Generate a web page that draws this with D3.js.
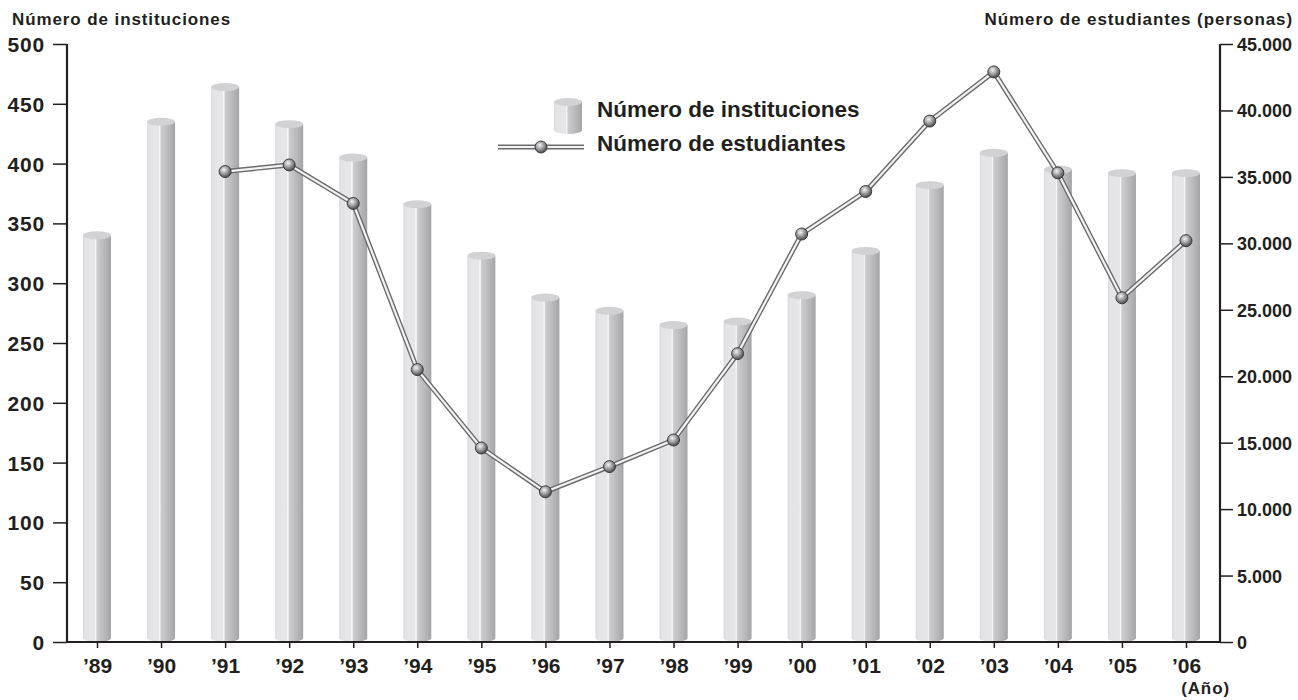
<!DOCTYPE html>
<html>
<head>
<meta charset="utf-8">
<script src="https://cdn.jsdelivr.net/npm/d3@7"></script>
<style>
  body { margin: 0; background: #fff; }
  text { font-family: "Liberation Sans", Arial, Helvetica, sans-serif; font-weight: bold; fill: #231f20; }
</style>
</head>
<body>
<div id="chart"></div>
<script>
// data
var years = ["’89", "’90", "’91", "’92", "’93", "’94", "’95", "’96", "’97", "’98", "’99", "’00", "’01", "’02", "’03", "’04", "’05", "’06"]
var institutions = [340, 435, 464, 433, 405, 366, 323, 288, 277, 265, 268, 290, 327, 382, 409, 395, 392, 392]
// students start in '91
var studentYears = ["’91", "’92", "’93", "’94", "’95", "’96", "’97", "’98", "’99", "’00", "’01", "’02", "’03", "’04", "’05", "’06"]
var students = [35400, 35900, 33000, 20500, 14600, 11300, 13200, 15200, 21700, 30700, 33900, 39200, 42900, 35300, 25900, 30200]
var leftTicks = [0, 50, 100, 150, 200, 250, 300, 350, 400, 450, 500]
var rightTicks = [0, 5000, 10000, 15000, 20000, 25000, 30000, 35000, 40000, 45000]

var W = 1298, H = 700
var plotLeft = 67, plotRight = 1220, plotTop = 44, base = 642
var rx = 14, ry = 4

var svg = d3.select("#chart").append("svg")
    .attr("width", W)
    .attr("height", H)

var defs = svg.append("defs")
var bodyGrad = defs.append("linearGradient").attr("id", "cyl")
    .attr("x1", "0%").attr("x2", "100%").attr("y1", "0%").attr("y2", "0%")
bodyGrad.selectAll("stop")
    .data([[0, "#d9d9db"], [0.08, "#e4e4e6"], [0.42, "#e6e6e8"], [0.44, "#f7f7f7"], [0.47, "#f2f2f3"], [0.49, "#cdcdcf"], [0.8, "#b6b6b9"], [1, "#a4a4a7"]])
    .enter().append("stop")
    .attr("offset", function(d) { return d[0] })
    .attr("stop-color", function(d) { return d[1] })

var ballGrad = defs.append("radialGradient").attr("id", "ball")
    .attr("cx", "40%").attr("cy", "35%").attr("r", "65%")
ballGrad.append("stop").attr("offset", 0).attr("stop-color", "#f4f4f4")
ballGrad.append("stop").attr("offset", 0.45).attr("stop-color", "#a9a9ab")
ballGrad.append("stop").attr("offset", 1).attr("stop-color", "#4a4a4c")

var x = d3.scalePoint().domain(years).range([97, 1186])
var yL = d3.scaleLinear().domain([0, 500]).range([base, plotTop])
var yR = d3.scaleLinear().domain([0, 45000]).range([base, plotTop])

// cylinders
function drawCylinder(g, cx, cy, bottom) {
    g.append("path")
        .attr("d", "M" + (cx - rx) + "," + cy + " L" + (cx - rx) + "," + (bottom - ry) +
            " A" + rx + "," + ry + " 0 0 0 " + (cx + rx) + "," + (bottom - ry) +
            " L" + (cx + rx) + "," + cy + " Z")
        .attr("fill", "url(#cyl)")
    g.append("ellipse")
        .attr("cx", cx).attr("cy", cy)
        .attr("rx", rx).attr("ry", ry)
        .attr("fill", "#d2d2d4")
}

var bars = svg.append("g")
institutions.forEach(function(v, i) {
    drawCylinder(bars, x(years[i]), yL(v), base)
})

// axes
var axisColor = "#231f20"
var leftAxis = svg.append("g").attr("transform", "translate(" + plotLeft + ",0)")
    .call(d3.axisLeft(yL).tickValues(leftTicks).tickSize(14).tickPadding(8).tickFormat(d3.format("d")))
var rightAxis = svg.append("g").attr("transform", "translate(" + plotRight + ",0)")
    .call(d3.axisRight(yR).tickValues(rightTicks).tickSize(13).tickPadding(4)
        .tickFormat(function(d) { return d == 0 ? "0" : d3.format(",")(d).replace(",", ".") }))
var bottomAxis = svg.append("g").attr("transform", "translate(0," + base + ")")
    .call(d3.axisBottom(x).tickSize(6).tickPadding(6))

;[leftAxis, rightAxis, bottomAxis].forEach(function(a) {
    a.select(".domain").remove()
    a.selectAll(".tick line").attr("stroke", axisColor).attr("stroke-width", 1.5)
    a.selectAll(".tick text").style("font-size", "21px").attr("fill", axisColor)
})
leftAxis.selectAll(".tick text").attr("dy", "0.36em").style("letter-spacing", "0.8px")
rightAxis.selectAll(".tick text").attr("dy", "0.36em").style("font-size", "18px")
bottomAxis.selectAll(".tick text").attr("dy", "0.9em")

svg.append("path")
    .attr("d", "M" + plotLeft + "," + plotTop + " L" + plotLeft + "," + base + " L" + plotRight + "," + base + " L" + plotRight + "," + plotTop)
    .attr("fill", "none")
    .attr("stroke", axisColor)
    .attr("stroke-width", 2.2)

// student line: dark outline with light core
var line = d3.line()
    .x(function(d, i) { return x(studentYears[i]) })
    .y(function(d) { return yR(d) })
svg.append("path").datum(students)
    .attr("d", line).attr("fill", "none")
    .attr("stroke", "#6b6b6d").attr("stroke-width", 5)
svg.append("path").datum(students)
    .attr("d", line).attr("fill", "none")
    .attr("stroke", "#f2f2f2").attr("stroke-width", 2.2)
svg.append("g").selectAll("circle")
    .data(students)
    .enter().append("circle")
    .attr("cx", function(d, i) { return x(studentYears[i]) })
    .attr("cy", function(d) { return yR(d) })
    .attr("r", 6)
    .attr("fill", "url(#ball)")
    .attr("stroke", "#3c3c3e")
    .attr("stroke-width", 1)

// titles
svg.append("text").attr("x", 12).attr("y", 25).style("font-size", "17px").style("letter-spacing", "0.9px").text("Número de instituciones")
svg.append("text").attr("x", 1293).attr("y", 25).attr("text-anchor", "end").style("font-size", "17px").style("letter-spacing", "0.9px").text("Número de estudiantes (personas)")
svg.append("text").attr("x", 1230).attr("y", 694).attr("text-anchor", "end").style("font-size", "17px").style("letter-spacing", "0.9px").text("(Año)")

// legend
var lg = svg.append("g")
drawCylinder(lg, 568, 102, 134)
lg.append("text").attr("x", 597).attr("y", 117).style("font-size", "22.5px").text("Número de instituciones")
lg.append("line").attr("x1", 498).attr("x2", 584).attr("y1", 147).attr("y2", 147)
    .attr("stroke", "#6b6b6d").attr("stroke-width", 5)
lg.append("line").attr("x1", 498).attr("x2", 584).attr("y1", 147).attr("y2", 147)
    .attr("stroke", "#f2f2f2").attr("stroke-width", 2.2)
lg.append("circle").attr("cx", 541).attr("cy", 147).attr("r", 6)
    .attr("fill", "url(#ball)").attr("stroke", "#3c3c3e")
lg.append("text").attr("x", 597).attr("y", 151).style("font-size", "22.5px").text("Número de estudiantes")
</script>
</body>
</html>
